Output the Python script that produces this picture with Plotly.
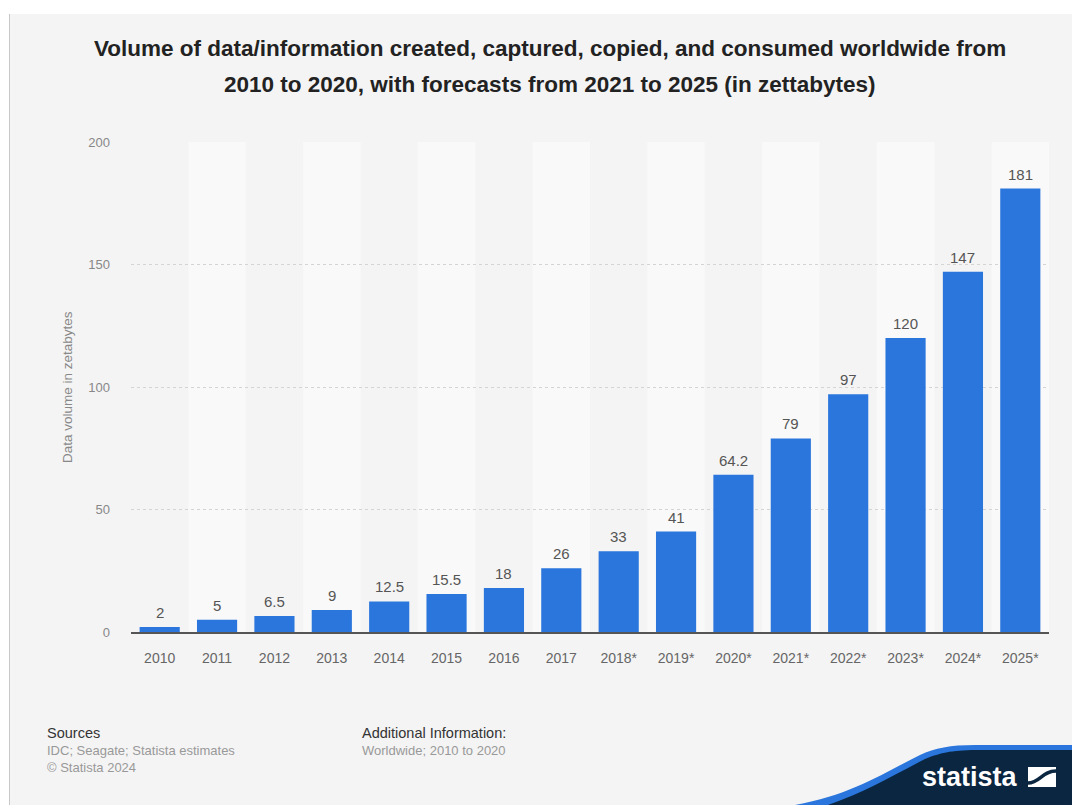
import plotly.graph_objects as go

years = ["2010", "2011", "2012", "2013", "2014", "2015", "2016", "2017",
         "2018*", "2019*", "2020*", "2021*", "2022*", "2023*", "2024*", "2025*"]
volumes = [2, 5, 6.5, 9, 12.5, 15.5, 18, 26, 33, 41, 64.2, 79, 97, 120, 147, 181]
y_ticks = [0, 50, 100, 150, 200]

W, H = 1072, 805
L, R, T, B = 131, 1049, 142, 632
FONT = "Arial, Liberation Sans, sans-serif"


def px(x):
    return (x - L) / (R - L)


def py(y):
    return (B - y) / (B - T)


def path(points_cmds):
    out = []
    for c in points_cmds:
        if isinstance(c, str):
            out.append(c)
        else:
            out.append(f"{px(c[0]):.5f},{py(c[1]):.5f}")
    return " ".join(out)


fig = go.Figure()
fig.add_trace(go.Bar(
    x=years, y=volumes,
    marker=dict(color="#2a76dd", line=dict(width=0)),
    hoverinfo="x+y",
))

shapes = []
# alternating light bands
for i in range(len(years)):
    if i % 2 == 1:
        shapes.append(dict(type="rect", xref="x", yref="paper", x0=i - 0.5, x1=i + 0.5,
                           y0=0, y1=1, fillcolor="#f9f9f9", line=dict(width=0), layer="below"))

# white outer strips + left border line
shapes.append(dict(type="rect", xref="paper", yref="paper", x0=px(0), x1=px(W), y0=py(0), y1=py(14),
                   fillcolor="white", line=dict(width=0), layer="above"))
shapes.append(dict(type="rect", xref="paper", yref="paper", x0=px(0), x1=px(9), y0=py(0), y1=py(H),
                   fillcolor="white", line=dict(width=0), layer="above"))
shapes.append(dict(type="line", xref="paper", yref="paper", x0=px(9.5), x1=px(9.5), y0=py(14), y1=py(H),
                   line=dict(color="#c8c8c8", width=1), layer="above"))

# statista wave
blue_wave = path(["M", (795, 805), "C", (850, 795), (880, 775), (920, 755),
                  "C", (935, 748), (950, 745), (975, 745), "L", (1072, 745), "L", (1072, 805), "Z"])
navy_wave = path(["M", (828, 805), "C", (865, 792), (890, 777), (925, 759),
                  "C", (942, 752), (955, 750), (980, 750), "L", (1072, 750), "L", (1072, 805), "Z"])
shapes.append(dict(type="path", xref="paper", yref="paper", path=blue_wave,
                   fillcolor="#2a76dd", line=dict(width=0), layer="above"))
shapes.append(dict(type="path", xref="paper", yref="paper", path=navy_wave,
                   fillcolor="#0a2640", line=dict(width=0), layer="above"))
# logo icon
shapes.append(dict(type="rect", xref="paper", yref="paper", x0=px(1028), x1=px(1056), y0=py(787), y1=py(767),
                   fillcolor="white", line=dict(width=0), layer="above"))
icon_curve = path(["M", (1028, 783), "C", (1040, 783), (1042, 771), (1056, 771)])
shapes.append(dict(type="path", xref="paper", yref="paper", path=icon_curve,
                   line=dict(color="#0a2640", width=3.5), layer="above"))

annotations = [
    dict(text="<b>Volume of data/information created, captured, copied, and consumed worldwide from</b>",
         x=px(550), y=py(49), font=dict(size=22.5, color="#222222", family=FONT)),
    dict(text="<b>2010 to 2020, with forecasts from 2021 to 2025 (in zettabytes)</b>",
         x=px(550), y=py(85), font=dict(size=22.5, color="#222222", family=FONT)),
    dict(text="Data volume in zetabytes", x=px(67), y=py(387), textangle=-90,
         font=dict(size=13.5, color="#888888", family=FONT)),
    dict(text="Sources", x=px(45), y=py(733), xanchor="left",
         font=dict(size=14.5, color="#333333", family=FONT)),
    dict(text="IDC; Seagate; Statista estimates", x=px(45), y=py(750), xanchor="left",
         font=dict(size=13, color="#999999", family=FONT)),
    dict(text="© Statista 2024", x=px(45), y=py(767), xanchor="left",
         font=dict(size=13, color="#999999", family=FONT)),
    dict(text="Additional Information:", x=px(360), y=py(733), xanchor="left",
         font=dict(size=14.5, color="#333333", family=FONT)),
    dict(text="Worldwide; 2010 to 2020", x=px(360), y=py(750), xanchor="left",
         font=dict(size=13, color="#999999", family=FONT)),
    dict(text="<b>statista</b>", x=px(970), y=py(777),
         font=dict(size=27, color="white", family=FONT)),
]
for a in annotations:
    a.update(xref="paper", yref="paper", showarrow=False)
    a.setdefault("xanchor", "center")
    a.setdefault("yanchor", "middle")

# value labels above bars (category index positions)
for i, v in enumerate(volumes):
    annotations.append(dict(
        x=i, y=v, xref="x", yref="y", text=f"{v:g}", showarrow=False,
        xanchor="center", yanchor="bottom", yshift=4,
        font=dict(size=15, color="#555555", family=FONT),
    ))

fig.update_layout(
    width=W, height=H,
    margin=dict(l=L, r=W - R, t=T, b=H - B, pad=0),
    paper_bgcolor="#f4f4f4",
    plot_bgcolor="rgba(0,0,0,0)",
    showlegend=False,
    bargap=0.3,
    shapes=shapes,
    annotations=annotations,
    font=dict(family=FONT),
    xaxis=dict(
        type="category",
        categoryorder="array", categoryarray=years,
        range=[-0.5, len(years) - 0.5],
        showgrid=False,
        showline=True, linecolor="#555555", linewidth=1.5,
        ticks="", ticklabelstandoff=12,
        tickfont=dict(size=14, color="#666666", family=FONT),
        fixedrange=True,
    ),
    yaxis=dict(
        range=[0, 200],
        tickvals=y_ticks,
        showgrid=True, gridcolor="#d4d4d4", griddash="dot", gridwidth=1,
        zeroline=False, showline=False,
        ticks="", ticklabelstandoff=20,
        tickfont=dict(size=13, color="#888888", family=FONT),
        fixedrange=True,
    ),
)

fig.write_html("out.html", config={"displayModeBar": False},
               post_script="document.body.style.margin='0';document.body.style.overflow='hidden';")
